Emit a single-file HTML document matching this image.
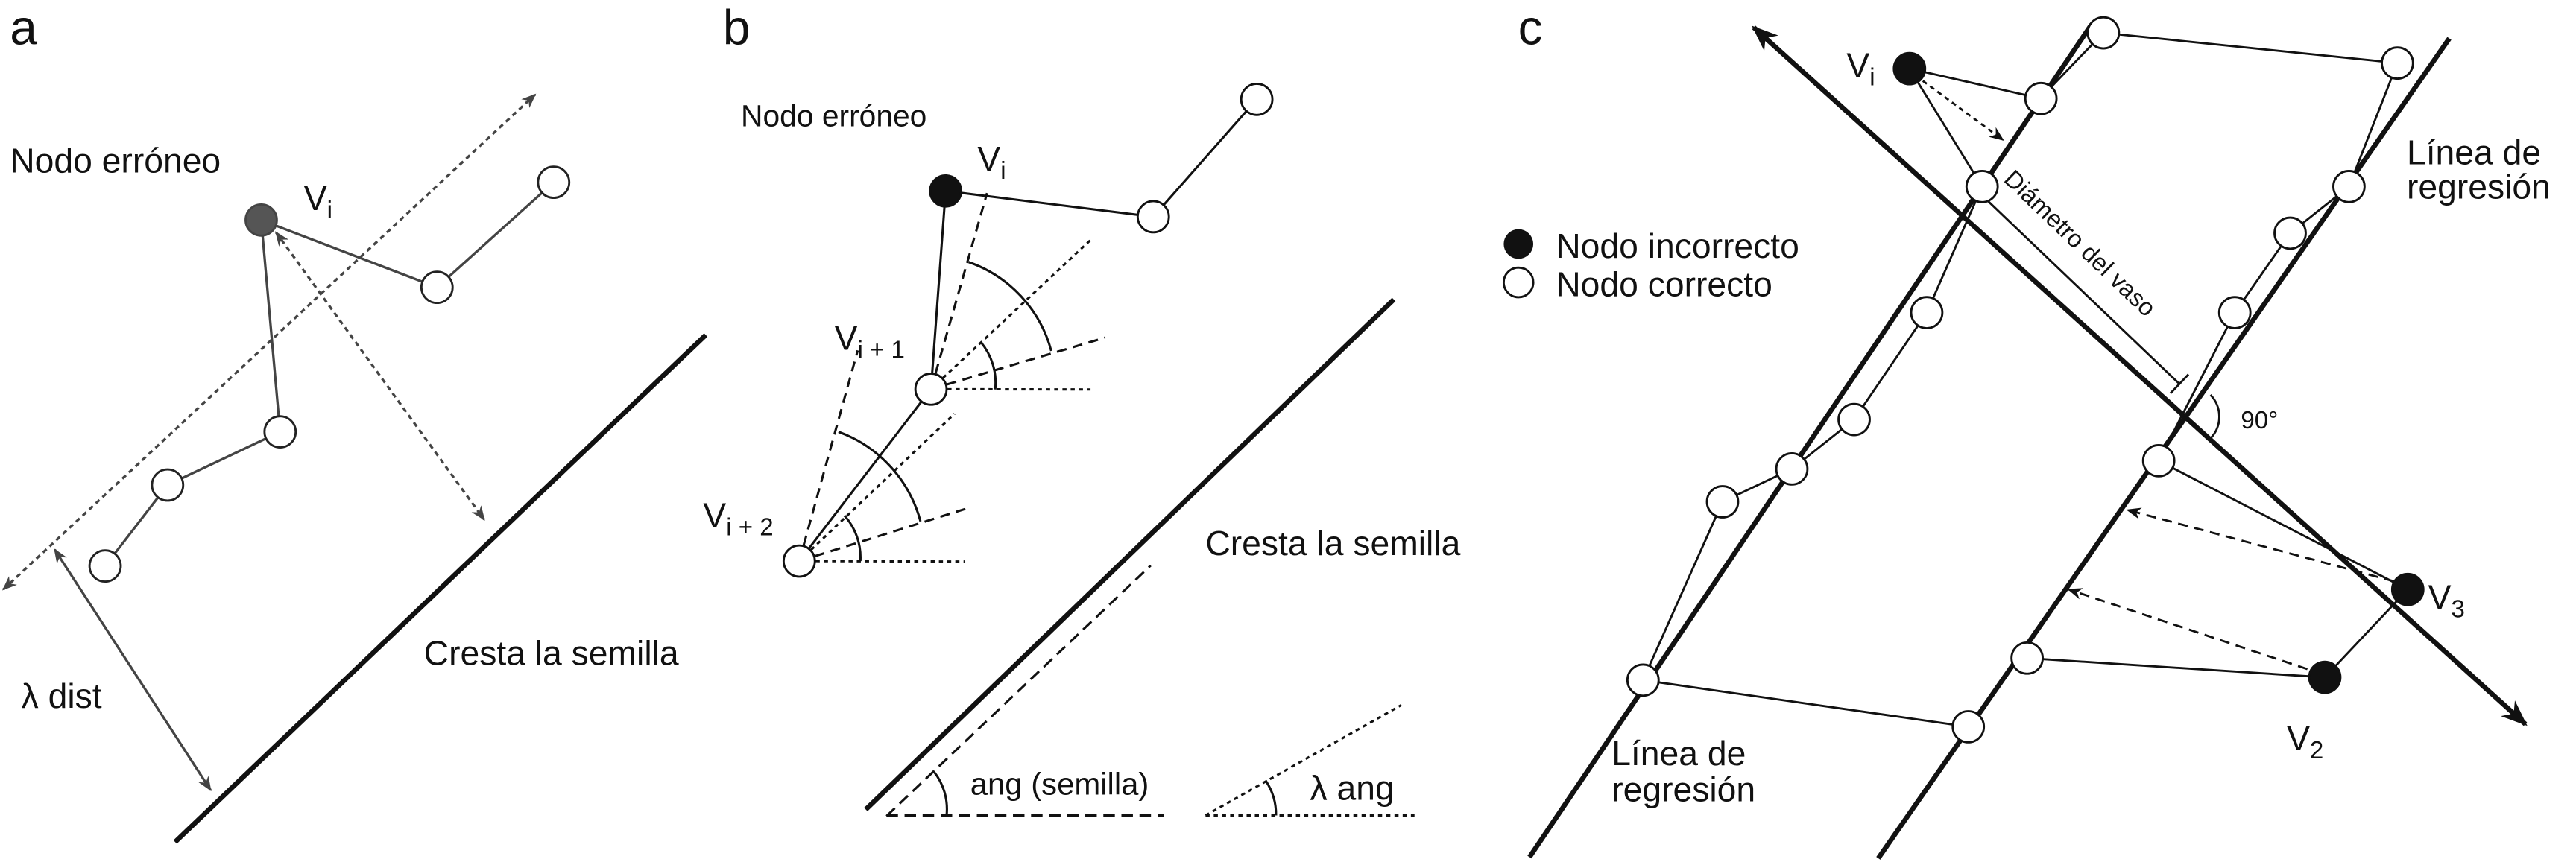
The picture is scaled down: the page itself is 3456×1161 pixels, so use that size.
<!DOCTYPE html>
<html><head><meta charset="utf-8"><style>html,body{margin:0;padding:0;background:#fff}svg{display:block}text{font-family:"Liberation Sans",Arial,sans-serif;fill:#111}</style></head>
<body>
<svg width="3456" height="1161" viewBox="0 0 1568 526.8" preserveAspectRatio="none" xmlns="http://www.w3.org/2000/svg">
<defs>
<marker id="ag" viewBox="0 0 10 10" refX="9" refY="5" markerWidth="9" markerHeight="9" markerUnits="userSpaceOnUse" orient="auto-start-reverse"><path d="M0,1 L10,5 L0,9 L3,5z" fill="#444"/></marker>
<marker id="ak" viewBox="0 0 10 10" refX="9" refY="5" markerWidth="9" markerHeight="9" markerUnits="userSpaceOnUse" orient="auto-start-reverse"><path d="M0,1 L10,5 L0,9 L3,5z" fill="#111"/></marker>
<marker id="akb" viewBox="0 0 10 10" refX="9" refY="5" markerWidth="16" markerHeight="16" markerUnits="userSpaceOnUse" orient="auto-start-reverse"><path d="M0,1 L10,5 L0,9 L3,5z" fill="#111"/></marker>
</defs>

<!-- PANEL A -->
<text x="6" y="27" font-size="30">a</text>
<text x="6" y="105" font-size="21">Nodo erróneo</text>
<text x="185" y="128" font-size="21">V<tspan font-size="15" dy="5">i</tspan></text>
<g stroke="#444" stroke-width="1.5" fill="none">
<line x1="159" y1="134" x2="266" y2="175"/><line x1="266" y1="175" x2="337" y2="111"/>
<line x1="159" y1="134" x2="170.5" y2="263"/><line x1="170.5" y1="263" x2="102" y2="295.4"/><line x1="102" y1="295.4" x2="64" y2="344.7"/>
<line x1="2" y1="359" x2="325.7" y2="57.6" stroke-dasharray="3,2.5" marker-start="url(#ag)" marker-end="url(#ag)"/>
<line x1="168" y1="141.5" x2="294.7" y2="316.4" stroke-dasharray="3,2.5" marker-start="url(#ag)" marker-end="url(#ag)"/>
<line x1="33.3" y1="334.7" x2="128.2" y2="481.2" marker-start="url(#ag)" marker-end="url(#ag)"/>
</g>
<line x1="106.6" y1="512.8" x2="429.6" y2="204" stroke="#111" stroke-width="3"/>
<g stroke="#222" stroke-width="1.3" fill="#fff">
<circle cx="337" cy="111" r="9.5"/><circle cx="266" cy="175" r="9.5"/><circle cx="170.5" cy="263" r="9.5"/><circle cx="102" cy="295.4" r="9.5"/><circle cx="64" cy="344.7" r="9.5"/>
<circle cx="159" cy="134" r="9.5" fill="#555" stroke="#444"/>
</g>
<text x="13" y="431" font-size="21">λ dist</text>
<text x="258" y="405" font-size="21">Cresta la semilla</text>

<!-- PANEL B -->
<text x="440" y="27" font-size="30">b</text>
<text x="451" y="77" font-size="18.5">Nodo erróneo</text>
<text x="595" y="104" font-size="21">V<tspan font-size="15" dy="5">i</tspan></text>
<text x="508" y="213" font-size="21">V<tspan font-size="15" dy="5">i + 1</tspan></text>
<text x="428" y="321" font-size="21">V<tspan font-size="15" dy="5">i + 2</tspan></text>
<g stroke="#111" stroke-width="1.4" fill="none">
<line x1="575.6" y1="116.3" x2="702" y2="132"/><line x1="702" y1="132" x2="765" y2="60.5"/>
<line x1="575.6" y1="116.3" x2="566.7" y2="237"/><line x1="566.7" y1="237" x2="486.5" y2="341.7"/>
<line x1="566.7" y1="237" x2="600.8" y2="117.6" stroke-dasharray="6,4"/>
<line x1="566.7" y1="237" x2="663.8" y2="146.2" stroke-dasharray="2.5,2.5"/>
<line x1="566.7" y1="237" x2="672.7" y2="205.6" stroke-dasharray="6,4"/>
<line x1="566.7" y1="237" x2="663.8" y2="237.2" stroke-dasharray="2.5,2.5"/>
<path d="M589.6,159.6 A79,79 0 0 1 639.9,213.7"/>
<path d="M597,208.3 A39,39 0 0 1 605.8,237.2"/>
<line x1="486.5" y1="341.7" x2="522.1" y2="213.4" stroke-dasharray="6,4"/>
<line x1="486.5" y1="341.7" x2="581" y2="252" stroke-dasharray="2.5,2.5"/>
<line x1="486.5" y1="341.7" x2="590.6" y2="309" stroke-dasharray="6,4"/>
<line x1="486.5" y1="341.7" x2="587.4" y2="342" stroke-dasharray="2.5,2.5"/>
<path d="M510.4,263 A80,80 0 0 1 560.3,317.5"/>
<path d="M514,314 A38,38 0 0 1 523.7,341.7"/>
<line x1="539.6" y1="497" x2="700.4" y2="344.4" stroke-dasharray="7,4"/>
<line x1="539.6" y1="496.6" x2="708.3" y2="496.6" stroke-dasharray="7,4"/>
<path d="M568.3,469.7 A37,37 0 0 1 576.2,496.6"/>
<line x1="733.8" y1="496.6" x2="853" y2="429.4" stroke-dasharray="2.5,2.5"/>
<line x1="733.8" y1="496.6" x2="861" y2="496.6" stroke-dasharray="2.5,2.5"/>
<path d="M770.4,475.4 A37,37 0 0 1 776.7,496.6"/>
</g>
<line x1="527" y1="493" x2="848.4" y2="182.4" stroke="#111" stroke-width="3"/>
<g stroke="#111" stroke-width="1.3" fill="#fff">
<circle cx="765" cy="60.5" r="9.5"/><circle cx="702" cy="132" r="9.5"/><circle cx="566.7" cy="237" r="9.5"/><circle cx="486.5" cy="341.7" r="9.5"/>
<circle cx="575.6" cy="116.3" r="9.5" fill="#111"/>
</g>
<text x="733.8" y="338" font-size="21">Cresta la semilla</text>
<text x="590.6" y="484" font-size="19">ang (semilla)</text>
<text x="797.4" y="487" font-size="21">λ ang</text>

<!-- PANEL C -->
<text x="924" y="27" font-size="30">c</text>
<circle cx="924.3" cy="148.6" r="9" fill="#111"/>
<circle cx="924.3" cy="172" r="9" fill="#fff" stroke="#111" stroke-width="1.3"/>
<text x="947" y="157" font-size="21">Nodo incorrecto</text>
<text x="947" y="180.4" font-size="21">Nodo correcto</text>
<g stroke="#111" fill="none">
<line x1="931" y1="522" x2="1273" y2="15" stroke-width="3"/>
<line x1="1143.3" y1="522.7" x2="1490.9" y2="23.4" stroke-width="3"/>
<line x1="1067.5" y1="16.7" x2="1537.2" y2="441" stroke-width="3" marker-start="url(#akb)" marker-end="url(#akb)"/>
<g stroke-width="1.3">
<polyline points="1162.3,41.8 1242.3,60"/>
<polyline points="1162.3,41.8 1206.5,113.6"/>
<polyline points="1236,66 1280.3,20 1459.3,38.4 1429.8,113.6 1394,142 1360.3,190.4 1314,280.6 1465.6,359 1415.1,412.5 1233.9,400.8"/>
<polyline points="1206.5,113.6 1172.8,190.4 1128.6,255.5 1090.7,285.6 1048.5,305.6 1000.1,414.2 1198.1,442.6"/>
<line x1="1204.4" y1="117" x2="1326.6" y2="233.8"/>
<line x1="1198.9" y1="122.8" x2="1209.9" y2="111.2"/>
<line x1="1321.1" y1="239.6" x2="1332.1" y2="228"/>
<path d="M1345.5,240.5 A19,19 0 0 1 1345.5,267"/>
<line x1="1166" y1="46" x2="1219.2" y2="85.2" stroke-dasharray="3,2.5" marker-end="url(#ak)"/>
<line x1="1457.2" y1="354" x2="1295" y2="310.6" stroke-dasharray="6,4" marker-end="url(#ak)"/>
<line x1="1404.5" y1="407.5" x2="1259.2" y2="359" stroke-dasharray="6,4" marker-end="url(#ak)"/>
</g></g>
<g stroke="#111" stroke-width="1.3" fill="#fff">
<circle cx="1280.3" cy="20" r="9.5"/><circle cx="1459.3" cy="38.4" r="9.5"/><circle cx="1242.3" cy="60" r="9.5"/>
<circle cx="1206.5" cy="113.6" r="9.5"/><circle cx="1429.8" cy="113.6" r="9.5"/><circle cx="1394" cy="142" r="9.5"/>
<circle cx="1172.8" cy="190.4" r="9.5"/><circle cx="1360.3" cy="190.4" r="9.5"/><circle cx="1128.6" cy="255.5" r="9.5"/>
<circle cx="1090.7" cy="285.6" r="9.5"/><circle cx="1048.5" cy="305.6" r="9.5"/><circle cx="1314" cy="280.6" r="9.5"/>
<circle cx="1000.1" cy="414.2" r="9.5"/><circle cx="1233.9" cy="400.8" r="9.5"/><circle cx="1198.1" cy="442.6" r="9.5"/>
<circle cx="1162.3" cy="41.8" r="9.5" fill="#111"/><circle cx="1465.6" cy="359" r="9.5" fill="#111"/><circle cx="1415.1" cy="412.5" r="9.5" fill="#111"/>
</g>
<text x="1124" y="47" font-size="21">V<tspan font-size="15" dy="5">i</tspan></text>
<text x="1478" y="371" font-size="21">V<tspan font-size="15" dy="5">3</tspan></text>
<text x="1392" y="457" font-size="21">V<tspan font-size="15" dy="5">2</tspan></text>
<text font-size="15" transform="translate(1219,110) rotate(43.8)">Diámetro del vaso</text>
<text x="1364" y="261" font-size="15">90°</text>
<text x="1465" y="100" font-size="21">Línea de</text>
<text x="1465" y="121" font-size="21">regresión</text>
<text x="981" y="466" font-size="21">Línea de</text>
<text x="981" y="488" font-size="21">regresión</text>
</svg>
</body></html>
